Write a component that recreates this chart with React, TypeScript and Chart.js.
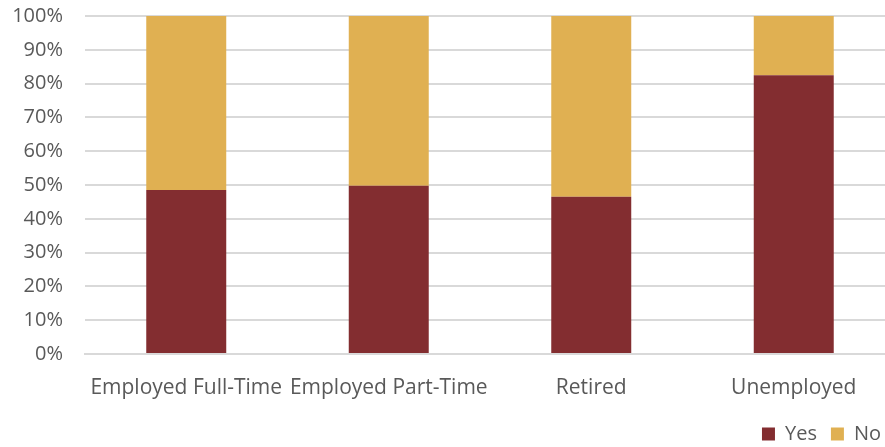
import React, { useEffect, useRef } from "react";
import { Chart, registerables } from "chart.js";

Chart.register(...registerables);

const categories = ["Employed Full-Time", "Employed Part-Time", "Retired", "Unemployed"];
const yesValues = [48.5, 49.8, 46.5, 82.5];
const noValues = [51.5, 50.2, 53.5, 17.5];
const yTicks = [0, 10, 20, 30, 40, 50, 60, 70, 80, 90, 100];

const FONT = "'Open Sans', sans-serif";
const TEXT = "#595959";

export default function App() {
  const ref = useRef<HTMLCanvasElement | null>(null);
  useEffect(() => {
    if (!ref.current) return;
    const chart = new Chart(ref.current, {
      type: "bar",
      data: {
        labels: categories,
        datasets: [
          { label: "Yes", data: yesValues, backgroundColor: "#832D30", categoryPercentage: 1, barPercentage: 0.395 },
          { label: "No", data: noValues, backgroundColor: "#E0B052", categoryPercentage: 1, barPercentage: 0.395 },
        ],
      },
      options: {
        animation: false,
        responsive: false,
        maintainAspectRatio: false,
        layout: { padding: { top: 0, left: 0, right: 0, bottom: 0 } },
        plugins: {
          tooltip: { enabled: false },
          legend: {
            position: "bottom",
            align: "end",
            labels: {
              boxWidth: 13,
              boxHeight: 13,
              padding: 14,
              color: TEXT,
              font: { family: FONT, size: 20 },
            },
          },
        },
        scales: {
          x: {
            stacked: true,
            grid: { display: false },
            border: { display: true, color: "#d9d9d9", width: 2 },
            ticks: {
              color: TEXT,
              font: { family: FONT, size: 21 },
              maxRotation: 0,
              minRotation: 0,
              autoSkip: false,
              padding: 13,
            },
            afterFit: (s: any) => { s.height = 56; },
          },
          y: {
            stacked: true,
            min: 0,
            max: 100,
            afterBuildTicks: (s: any) => { s.ticks = yTicks.map((v) => ({ value: v })); },
            grid: { color: "#d9d9d9", lineWidth: 2, drawTicks: false },
            border: { display: false },
            ticks: {
              color: TEXT,
              font: { family: FONT, size: 20 },
              padding: 22,
              callback: (v: any) => v + "%",
            },
            afterFit: (s: any) => { s.width = 85; },
          },
        },
      },
    });
    return () => chart.destroy();
  }, []);
  return (
    <div style={{ position: "fixed", left: 0, top: 0, width: 885, height: 447, overflow: "hidden", background: "#fff" }}>
      <canvas ref={ref} width={895} height={472} style={{ position: "absolute", left: 0, top: -18, width: 895, height: 472, display: "block" }} />
    </div>
  );
}
